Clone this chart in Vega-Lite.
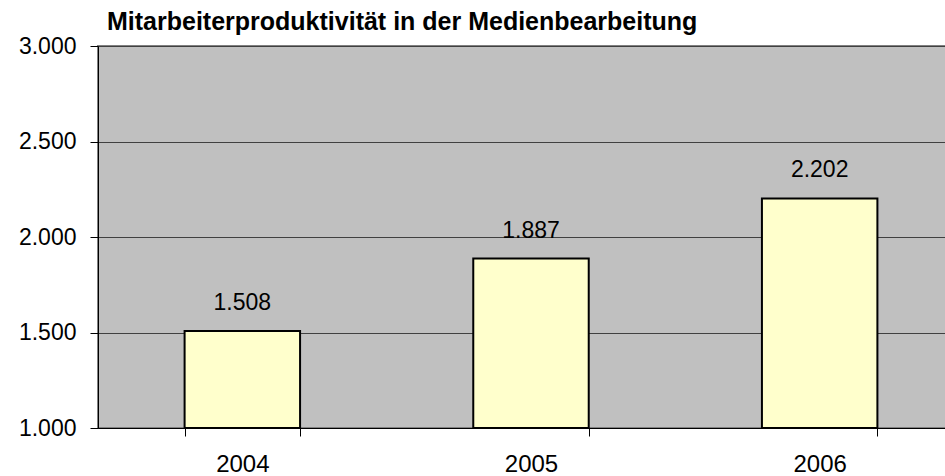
{
  "$schema": "https://vega.github.io/schema/vega-lite/v6.json",
  "autosize": {"type": "none"},
  "width": 866,
  "height": 382,
  "padding": {"left": 98, "top": 46, "right": 0, "bottom": 48},
  "background": "white",
  "config": {
    "locale": {"number": {"decimal": ",", "thousands": ".", "grouping": [3], "currency": ["", " €"]}},
    "font": "Liberation Sans",
    "view": {"fill": "#C0C0C0", "stroke": "#808080", "strokeWidth": 2}
  },
  "title": {
    "text": "Mitarbeiterproduktivität in der Medienbearbeitung",
    "anchor": "start",
    "frame": "group",
    "baseline": "alphabetic",
    "font": "Liberation Sans",
    "fontSize": 25,
    "fontWeight": "bold",
    "color": "black",
    "dx": 9,
    "dy": 25,
    "offset": 5
  },
  "data": {"values": [
    {"Jahr": "2004", "Wert": 1508},
    {"Jahr": "2005", "Wert": 1887},
    {"Jahr": "2006", "Wert": 2202}
  ]},
  "encoding": {
    "x": {
      "field": "Jahr", "type": "ordinal",
      "scale": {"paddingInner": 0.6, "paddingOuter": 0.3},
      "axis": {
        "title": null, "labelAngle": 0, "labelFontSize": 24, "labelColor": "black",
        "labelFont": "Liberation Sans", "labelPadding": 16,
        "tickBand": "extent", "tickSize": 8, "tickColor": "black",
        "domainColor": "black", "domainWidth": 1
      }
    },
    "y": {
      "field": "Wert", "type": "quantitative",
      "scale": {"domain": [1000, 3000], "zero": false},
      "axis": {
        "title": null, "values": [1000, 1500, 2000, 2500, 3000], "format": ",d",
        "labelFontSize": 23, "labelColor": "black", "labelFont": "Liberation Sans",
        "labelPadding": 14, "tickSize": 8, "tickColor": "black",
        "domainColor": "black", "grid": true, "gridColor": "#404040", "gridWidth": 1
      }
    }
  },
  "layer": [
    {
      "mark": {"type": "bar", "fill": "#FFFFCC", "stroke": "black", "strokeWidth": 2},
      "encoding": {"y2": {"datum": 1000}}
    },
    {
      "mark": {"type": "text", "baseline": "alphabetic", "dy": -21, "fontSize": 23, "font": "Liberation Sans", "color": "black"},
      "encoding": {"text": {"field": "Wert", "type": "quantitative", "format": ",d"}}
    }
  ]
}
